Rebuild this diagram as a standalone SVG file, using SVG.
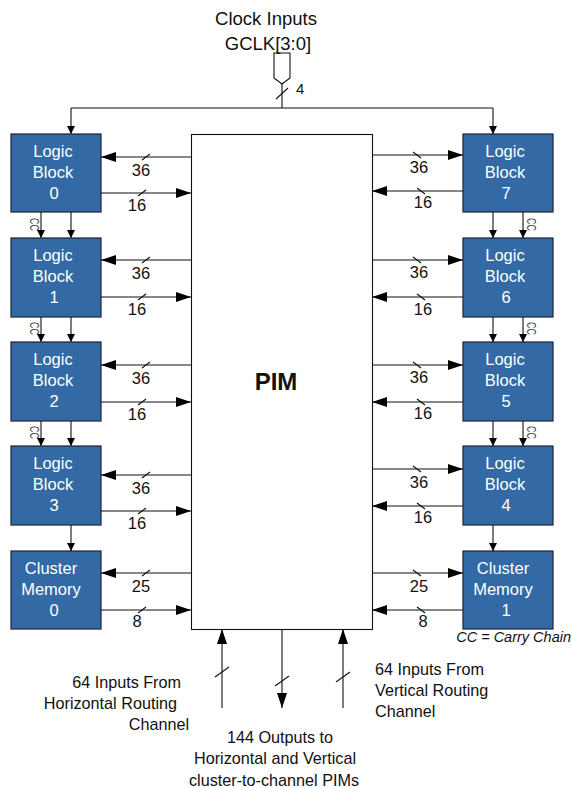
<svg xmlns="http://www.w3.org/2000/svg" width="572" height="788" viewBox="0 0 572 788">
<style>
text{font-family:"Liberation Sans",Arial,sans-serif;fill:#111}
.blk rect{fill:#336aa5;stroke:#1b2433;stroke-width:1.2}
.blk text{fill:#fff;font-size:16.5px;text-anchor:middle}
.ln{stroke:#111;stroke-width:1.1;fill:none}
.lab{font-size:16.5px;text-anchor:middle}
.cc{font-size:12px;fill:#444}
.big{marker-end:url(#ah)}
.sm{marker-end:url(#as)}
.bt{font-size:16.2px}
</style>
<defs>
<marker id="ah" markerUnits="userSpaceOnUse" markerWidth="16" markerHeight="12" refX="15" refY="5" orient="auto"><path d="M0,0 L15,5 L0,10 z" fill="#000"/></marker>
<marker id="as" markerUnits="userSpaceOnUse" markerWidth="10" markerHeight="10" refX="8" refY="4" orient="auto"><path d="M0,0 L8,4 L0,8 z" fill="#000"/></marker>
</defs>

<g id="clock">
<text x="266" y="25" style="font-size:18.5px;text-anchor:middle">Clock Inputs</text>
<text x="268" y="50" style="font-size:18.5px;text-anchor:middle">GCLK[3:0]</text>
<path class="ln" d="M274,53 L290,53 L290,78 L282,84 L274,78 Z"/>
<text x="296" y="94" style="font-size:15px">4</text>
</g>

<g id="pim">
<rect x="191.5" y="134.5" width="181" height="495" fill="#fff" stroke="#111" stroke-width="1.1"/>
<text x="276" y="390" style="font-size:24px;font-weight:bold;text-anchor:middle">PIM</text>
</g>

<g id="lb0" class="blk"><rect x="11" y="134" width="90" height="78"/><text x="53" y="157">Logic</text><text x="53" y="178">Block</text><text x="54" y="199">0</text></g>
<g id="lb1" class="blk"><rect x="11" y="238" width="90" height="79"/><text x="53" y="261">Logic</text><text x="53" y="282">Block</text><text x="54" y="303">1</text></g>
<g id="lb2" class="blk"><rect x="11" y="342" width="90" height="79"/><text x="53" y="365">Logic</text><text x="53" y="386">Block</text><text x="54" y="407">2</text></g>
<g id="lb3" class="blk"><rect x="11" y="446" width="90" height="79"/><text x="53" y="469">Logic</text><text x="53" y="490">Block</text><text x="54" y="511">3</text></g>
<g id="cm0" class="blk"><rect x="11" y="551" width="90" height="78"/><text x="51" y="574">Cluster</text><text x="51" y="595">Memory</text><text x="54" y="616">0</text></g>

<g id="lb7" class="blk"><rect x="463" y="134" width="90" height="78"/><text x="505" y="157">Logic</text><text x="505" y="178">Block</text><text x="506" y="199">7</text></g>
<g id="lb6" class="blk"><rect x="463" y="238" width="90" height="79"/><text x="505" y="261">Logic</text><text x="505" y="282">Block</text><text x="506" y="303">6</text></g>
<g id="lb5" class="blk"><rect x="463" y="342" width="90" height="79"/><text x="505" y="365">Logic</text><text x="505" y="386">Block</text><text x="506" y="407">5</text></g>
<g id="lb4" class="blk"><rect x="463" y="446" width="90" height="79"/><text x="505" y="469">Logic</text><text x="505" y="490">Block</text><text x="506" y="511">4</text></g>
<g id="cm1" class="blk"><rect x="463" y="551" width="90" height="78"/><text x="503" y="574">Cluster</text><text x="503" y="595">Memory</text><text x="506" y="616">1</text></g>

<g id="connectors">
<path class="ln" d="M282,84 L282,108 M71,108 L493,108"/>
<path class="ln" d="M276,99 L288,88"/>
<path class="ln sm" d="M71,108 L71,134"/>
<path class="ln sm" d="M493,108 L493,134"/>

<path class="ln sm" d="M41,212 L41,238"/><path class="ln sm" d="M71,212 L71,238"/>
<path class="ln sm" d="M41,317 L41,342"/><path class="ln sm" d="M71,317 L71,342"/>
<path class="ln sm" d="M41,421 L41,446"/><path class="ln sm" d="M71,421 L71,446"/>
<path class="ln sm" d="M71,525 L71,551"/>
<path class="ln sm" d="M493,212 L493,238"/><path class="ln sm" d="M523,212 L523,238"/>
<path class="ln sm" d="M493,317 L493,342"/><path class="ln sm" d="M523,317 L523,342"/>
<path class="ln sm" d="M493,421 L493,446"/><path class="ln sm" d="M523,421 L523,446"/>
<path class="ln sm" d="M493,525 L493,551"/>

<path class="ln big" d="M191,157 L101,157"/><path class="ln" d="M142,160 L150,154"/>
<path class="ln big" d="M101,193 L191,193"/><path class="ln" d="M138,196 L146,190"/>
<path class="ln big" d="M191,260 L101,260"/><path class="ln" d="M142,263 L150,257"/>
<path class="ln big" d="M101,297 L191,297"/><path class="ln" d="M138,300 L146,294"/>
<path class="ln big" d="M191,365 L101,365"/><path class="ln" d="M142,368 L150,362"/>
<path class="ln big" d="M101,402 L191,402"/><path class="ln" d="M138,405 L146,399"/>
<path class="ln big" d="M191,475 L101,475"/><path class="ln" d="M142,478 L150,472"/>
<path class="ln big" d="M101,511 L191,511"/><path class="ln" d="M138,514 L146,508"/>
<path class="ln big" d="M191,573 L101,573"/><path class="ln" d="M142,576 L150,570"/>
<path class="ln big" d="M101,610 L191,610"/><path class="ln" d="M138,613 L146,607"/>

<path class="ln big" d="M372,155 L463,155"/><path class="ln" d="M413,152 L421,158"/>
<path class="ln big" d="M463,191 L372,191"/><path class="ln" d="M417,188 L425,194"/>
<path class="ln big" d="M372,260 L463,260"/><path class="ln" d="M413,257 L421,263"/>
<path class="ln big" d="M463,297 L372,297"/><path class="ln" d="M417,294 L425,300"/>
<path class="ln big" d="M372,365 L463,365"/><path class="ln" d="M413,362 L421,368"/>
<path class="ln big" d="M463,402 L372,402"/><path class="ln" d="M417,399 L425,405"/>
<path class="ln big" d="M372,469 L463,469"/><path class="ln" d="M413,466 L421,472"/>
<path class="ln big" d="M463,506 L372,506"/><path class="ln" d="M417,503 L425,509"/>
<path class="ln big" d="M372,573 L463,573"/><path class="ln" d="M413,570 L421,576"/>
<path class="ln big" d="M463,610 L372,610"/><path class="ln" d="M417,607 L425,613"/>

<path class="ln big" d="M222,708 L222,629"/><path class="ln" d="M215,677 L229,667"/>
<path class="ln big" d="M282,629 L282,708"/><path class="ln" d="M275,686 L289,676"/>
<path class="ln big" d="M343,708 L343,629"/><path class="ln" d="M336,682 L350,672"/>
</g>

<g id="labels">
<text class="lab" x="141" y="176">36</text><text class="lab" x="137" y="211">16</text>
<text class="lab" x="141" y="279">36</text><text class="lab" x="137" y="315">16</text>
<text class="lab" x="141" y="384">36</text><text class="lab" x="137" y="420">16</text>
<text class="lab" x="141" y="494">36</text><text class="lab" x="137" y="529">16</text>
<text class="lab" x="141" y="592">25</text><text class="lab" x="137" y="627">8</text>

<text class="lab" x="419" y="173">36</text><text class="lab" x="423" y="208">16</text>
<text class="lab" x="419" y="278">36</text><text class="lab" x="423" y="315">16</text>
<text class="lab" x="419" y="383">36</text><text class="lab" x="423" y="419">16</text>
<text class="lab" x="419" y="488">36</text><text class="lab" x="423" y="523">16</text>
<text class="lab" x="419" y="592">25</text><text class="lab" x="423" y="627">8</text>

<text class="cc" transform="translate(30,218) rotate(90)" textLength="13" lengthAdjust="spacingAndGlyphs">CC</text>
<text class="cc" transform="translate(30,322) rotate(90)" textLength="13" lengthAdjust="spacingAndGlyphs">CC</text>
<text class="cc" transform="translate(30,426) rotate(90)" textLength="13" lengthAdjust="spacingAndGlyphs">CC</text>
<text class="cc" transform="translate(527,218) rotate(90)" textLength="13" lengthAdjust="spacingAndGlyphs">CC</text>
<text class="cc" transform="translate(527,322) rotate(90)" textLength="13" lengthAdjust="spacingAndGlyphs">CC</text>
<text class="cc" transform="translate(527,426) rotate(90)" textLength="13" lengthAdjust="spacingAndGlyphs">CC</text>

<text x="571" y="642" style="font-size:14.5px;font-style:italic;text-anchor:end">CC = Carry Chain</text>

<text class="bt" x="181" y="688" text-anchor="end">64 Inputs From</text>
<text class="bt" x="177" y="709" text-anchor="end">Horizontal Routing</text>
<text class="bt" x="189" y="730" text-anchor="end">Channel</text>

<text class="bt" x="375" y="675">64 Inputs From</text>
<text class="bt" x="375" y="696">Vertical Routing</text>
<text class="bt" x="375" y="717">Channel</text>

<text class="bt" x="280" y="743" text-anchor="middle">144 Outputs to</text>
<text class="bt" x="275" y="764" text-anchor="middle">Horizontal and Vertical</text>
<text class="bt" x="274" y="786" text-anchor="middle">cluster-to-channel PIMs</text>
</g>
</svg>
